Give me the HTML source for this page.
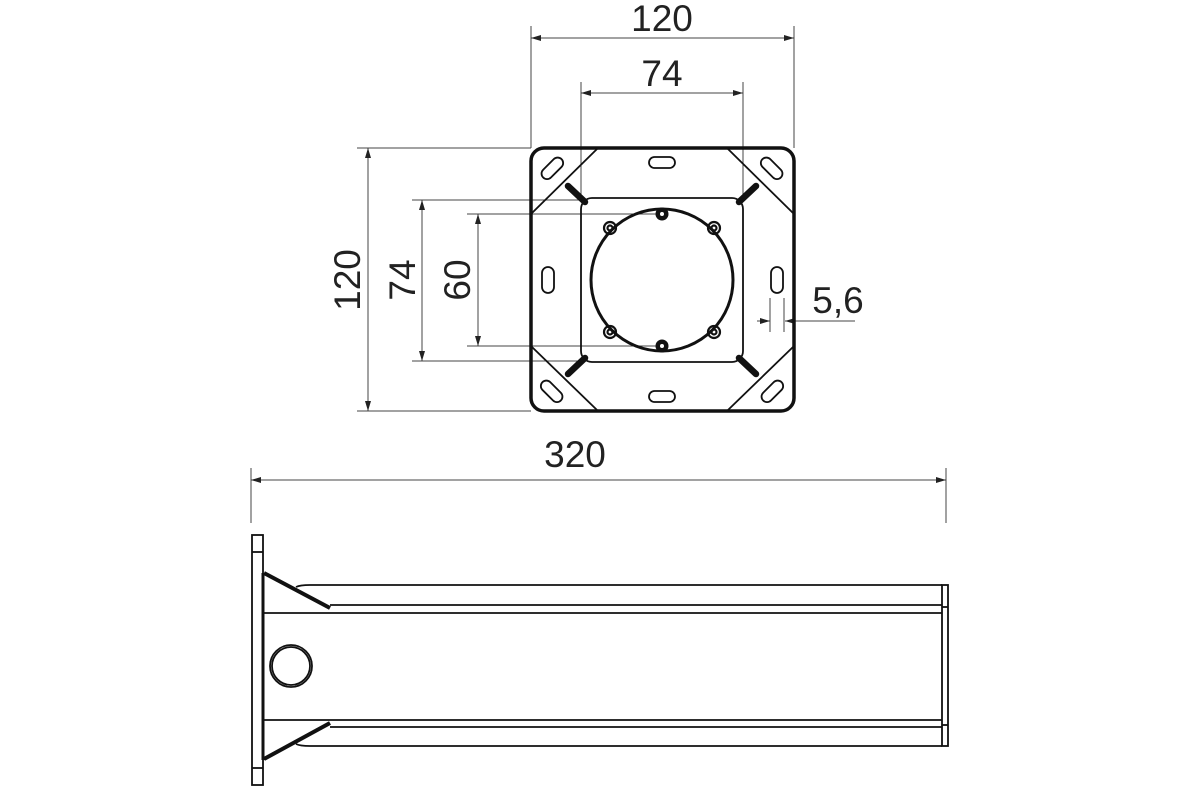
<!DOCTYPE html>
<html><head><style>html,body{margin:0;background:#fff}svg{display:block}</style></head>
<body>
<svg width="1200" height="800" viewBox="0 0 1200 800" xmlns="http://www.w3.org/2000/svg" font-family="Liberation Sans, sans-serif">
<defs>
<marker id="a" viewBox="0 0 10 6" refX="10" refY="3" markerWidth="10" markerHeight="6" orient="auto-start-reverse" markerUnits="userSpaceOnUse"><path d="M0,0 L10,3 L0,6z" fill="#222"/></marker>
</defs>
<g stroke="#444" stroke-width="1" fill="none">
<line x1="531" y1="26" x2="531" y2="148"/><line x1="794" y1="26" x2="794" y2="148"/>
<line x1="531" y1="38" x2="794" y2="38" marker-start="url(#a)" marker-end="url(#a)"/>
<line x1="581" y1="82" x2="581" y2="198"/><line x1="743" y1="82" x2="743" y2="198"/>
<line x1="581" y1="93" x2="743" y2="93" marker-start="url(#a)" marker-end="url(#a)"/>
<line x1="357" y1="148" x2="531" y2="148"/><line x1="357" y1="411" x2="531" y2="411"/>
<line x1="368" y1="148" x2="368" y2="411" marker-start="url(#a)" marker-end="url(#a)"/>
<line x1="412" y1="200" x2="581" y2="200"/><line x1="412" y1="361" x2="581" y2="361"/>
<line x1="422" y1="200" x2="422" y2="361" marker-start="url(#a)" marker-end="url(#a)"/>
<line x1="467" y1="214" x2="660" y2="214"/><line x1="467" y1="346" x2="660" y2="346"/>
<line x1="478" y1="214" x2="478" y2="346" marker-start="url(#a)" marker-end="url(#a)"/>
<line x1="770" y1="298" x2="770" y2="332"/><line x1="784" y1="298" x2="784" y2="332"/>
<line x1="757" y1="321" x2="770" y2="321" marker-end="url(#a)"/>
<line x1="855" y1="321" x2="785" y2="321" marker-end="url(#a)"/>
<line x1="251" y1="468" x2="251" y2="523"/><line x1="946" y1="468" x2="946" y2="523"/>
<line x1="251" y1="480" x2="946" y2="480" marker-start="url(#a)" marker-end="url(#a)"/>
</g>
<g fill="#222" font-size="37">
<text x="662" y="31" text-anchor="middle">120</text>
<text x="662" y="86" text-anchor="middle">74</text>
<text x="838" y="313" text-anchor="middle">5,6</text>
<text x="575" y="467" text-anchor="middle">320</text>
<text transform="translate(360,280) rotate(-90)" text-anchor="middle">120</text>
<text transform="translate(415,280) rotate(-90)" text-anchor="middle">74</text>
<text transform="translate(470,280) rotate(-90)" text-anchor="middle">60</text>
</g>
<g stroke="#111" fill="none">
<rect x="531" y="148" width="263" height="263" rx="13" stroke-width="3.5"/>
<rect x="581" y="198" width="162" height="164" rx="11" stroke-width="1.8"/>
<g stroke-width="1.8">
<line x1="597" y1="149" x2="532" y2="213"/><line x1="728" y1="149" x2="793" y2="213"/>
<line x1="532" y1="347" x2="597" y2="410"/><line x1="793" y1="347" x2="728" y2="410"/>
</g>
<circle cx="662" cy="280" r="71" stroke-width="3"/>
<g stroke-width="6.5" stroke-linecap="round">
<line x1="568" y1="186" x2="585" y2="202"/><line x1="756" y1="186" x2="739" y2="202"/>
<line x1="568" y1="374" x2="585" y2="358"/><line x1="756" y1="374" x2="739" y2="358"/>
</g>
<g stroke-width="1.8">
<rect x="649" y="157" width="26" height="11" rx="5.5"/>
<rect x="649" y="391" width="26" height="11" rx="5.5"/>
<rect x="542" y="267" width="12" height="26" rx="6"/>
<rect x="771" y="267" width="12" height="26" rx="6"/>
<rect x="539" y="163" width="26" height="11" rx="5.5" transform="rotate(-45 552 168)"/>
<rect x="759" y="163" width="26" height="11" rx="5.5" transform="rotate(45 772 168)"/>
<rect x="539" y="386" width="26" height="11" rx="5.5" transform="rotate(45 552 391)"/>
<rect x="759" y="386" width="26" height="11" rx="5.5" transform="rotate(-45 772 391)"/>
</g>
<g stroke-width="2.2">
<circle cx="610" cy="228" r="6"/><circle cx="610" cy="228" r="2.5"/>
<circle cx="714" cy="228" r="6"/><circle cx="714" cy="228" r="2.5"/>
<circle cx="610" cy="332" r="6"/><circle cx="610" cy="332" r="2.5"/>
<circle cx="714" cy="332" r="6"/><circle cx="714" cy="332" r="2.5"/>
</g>
</g>
<circle cx="662" cy="214" r="6.5" fill="#111"/><circle cx="662" cy="214" r="2" fill="#fff"/>
<circle cx="662" cy="346" r="6.5" fill="#111"/><circle cx="662" cy="346" r="2" fill="#fff"/>
<g stroke="#111" fill="none" stroke-width="1.8">
<rect x="252" y="535" width="11" height="250"/>
<line x1="252" y1="552" x2="263" y2="552"/><line x1="252" y1="768" x2="263" y2="768"/>
<line x1="263" y1="573" x2="263" y2="760" stroke-width="3"/>
<path d="M296,587 Q300,585 310,585 L942,585"/>
<line x1="330" y1="605" x2="942" y2="605"/>
<line x1="264" y1="613" x2="942" y2="613"/>
<line x1="264" y1="720" x2="942" y2="720"/>
<line x1="330" y1="727" x2="942" y2="727"/>
<path d="M296,744 Q300,746 310,746 L942,746"/>
<rect x="942" y="585" width="6" height="161"/>
<line x1="942" y1="607" x2="948" y2="607"/><line x1="942" y1="725" x2="948" y2="725"/>
<circle cx="291" cy="666" r="21"/><circle cx="291" cy="666" r="19"/>
<line x1="264" y1="573" x2="330" y2="608" stroke-width="4"/>
<line x1="264" y1="759" x2="330" y2="723" stroke-width="4"/>
</g>
</svg>
</body></html>
